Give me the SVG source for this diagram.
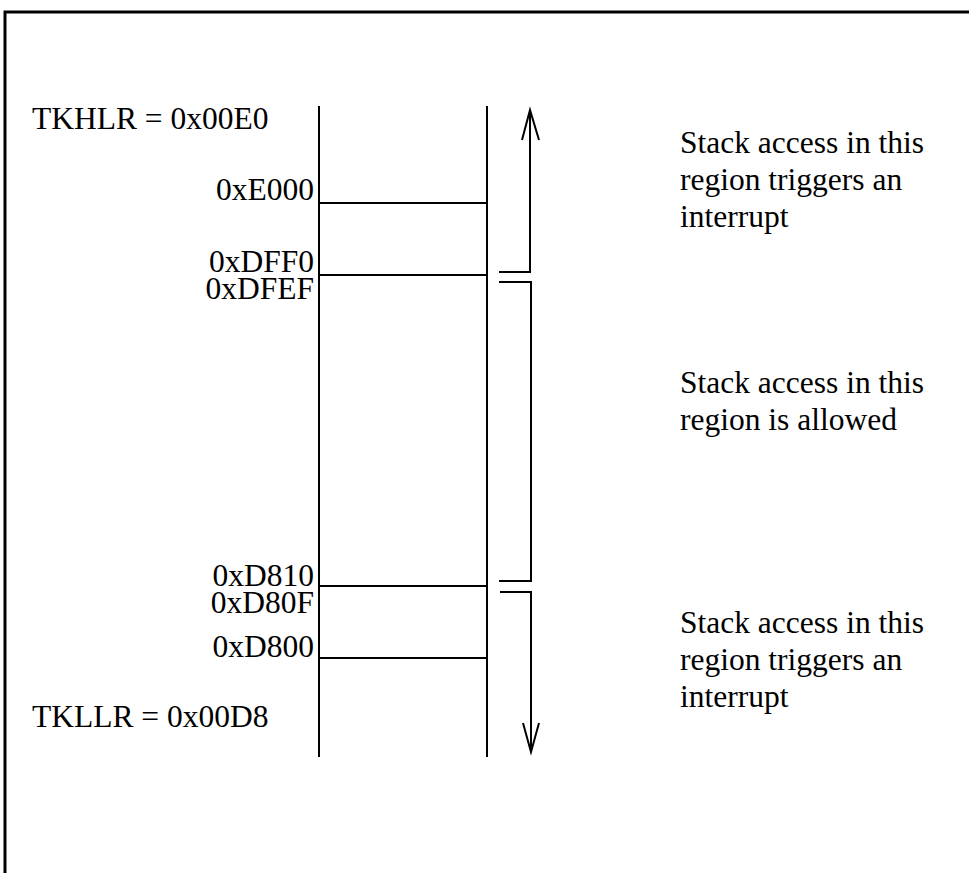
<svg xmlns="http://www.w3.org/2000/svg" width="969" height="873" viewBox="0 0 969 873">
<style>
  .ln { stroke: #000; stroke-width: 2; fill: none; }
  .frame { stroke: #000; stroke-width: 3; fill: none; }
  .t { font-family: "Liberation Serif", "Times New Roman", serif; font-size: 31.5px; fill: #000; }
  .r { text-anchor: end; }
</style>
<rect width="969" height="873" fill="#fff"/>
<path class="frame" d="M5,880 V12 H980"/>
<g id="memory-column">
  <line class="ln" x1="319" y1="106" x2="319" y2="757"/>
  <line class="ln" x1="487" y1="106" x2="487" y2="757"/>
  <line class="ln" x1="319" y1="203" x2="487" y2="203"/>
  <line class="ln" x1="319" y1="275" x2="487" y2="275"/>
  <line class="ln" x1="319" y1="586" x2="487" y2="586"/>
  <line class="ln" x1="319" y1="658" x2="487" y2="658"/>
</g>
<g id="address-labels">
  <text class="t" x="32" y="129">TKHLR = 0x00E0</text>
  <text class="t r" x="314" y="200">0xE000</text>
  <text class="t r" x="314" y="272">0xDFF0</text>
  <text class="t r" x="314" y="299">0xDFEF</text>
  <text class="t r" x="314" y="586">0xD810</text>
  <text class="t r" x="314" y="613">0xD80F</text>
  <text class="t r" x="314" y="657">0xD800</text>
  <text class="t" x="32" y="727">TKLLR = 0x00D8</text>
</g>
<g id="connectors">
  <path class="ln" d="M499,272 H530 V110"/>
  <path class="ln" d="M522,140 L530,110 L539,140"/>
  <path class="ln" d="M499,282 H531 V581 H499"/>
  <path class="ln" d="M500,592 H531 V752"/>
  <path class="ln" d="M523,723 L531,752 L539,723"/>
</g>
<g id="region-top">
  <text class="t" x="680" y="153">Stack access in this</text>
  <text class="t" x="680" y="190">region triggers an</text>
  <text class="t" x="680" y="227">interrupt</text>
</g>
<g id="region-middle">
  <text class="t" x="680" y="393">Stack access in this</text>
  <text class="t" x="680" y="430">region is allowed</text>
</g>
<g id="region-bottom">
  <text class="t" x="680" y="633">Stack access in this</text>
  <text class="t" x="680" y="670">region triggers an</text>
  <text class="t" x="680" y="707">interrupt</text>
</g>
</svg>
